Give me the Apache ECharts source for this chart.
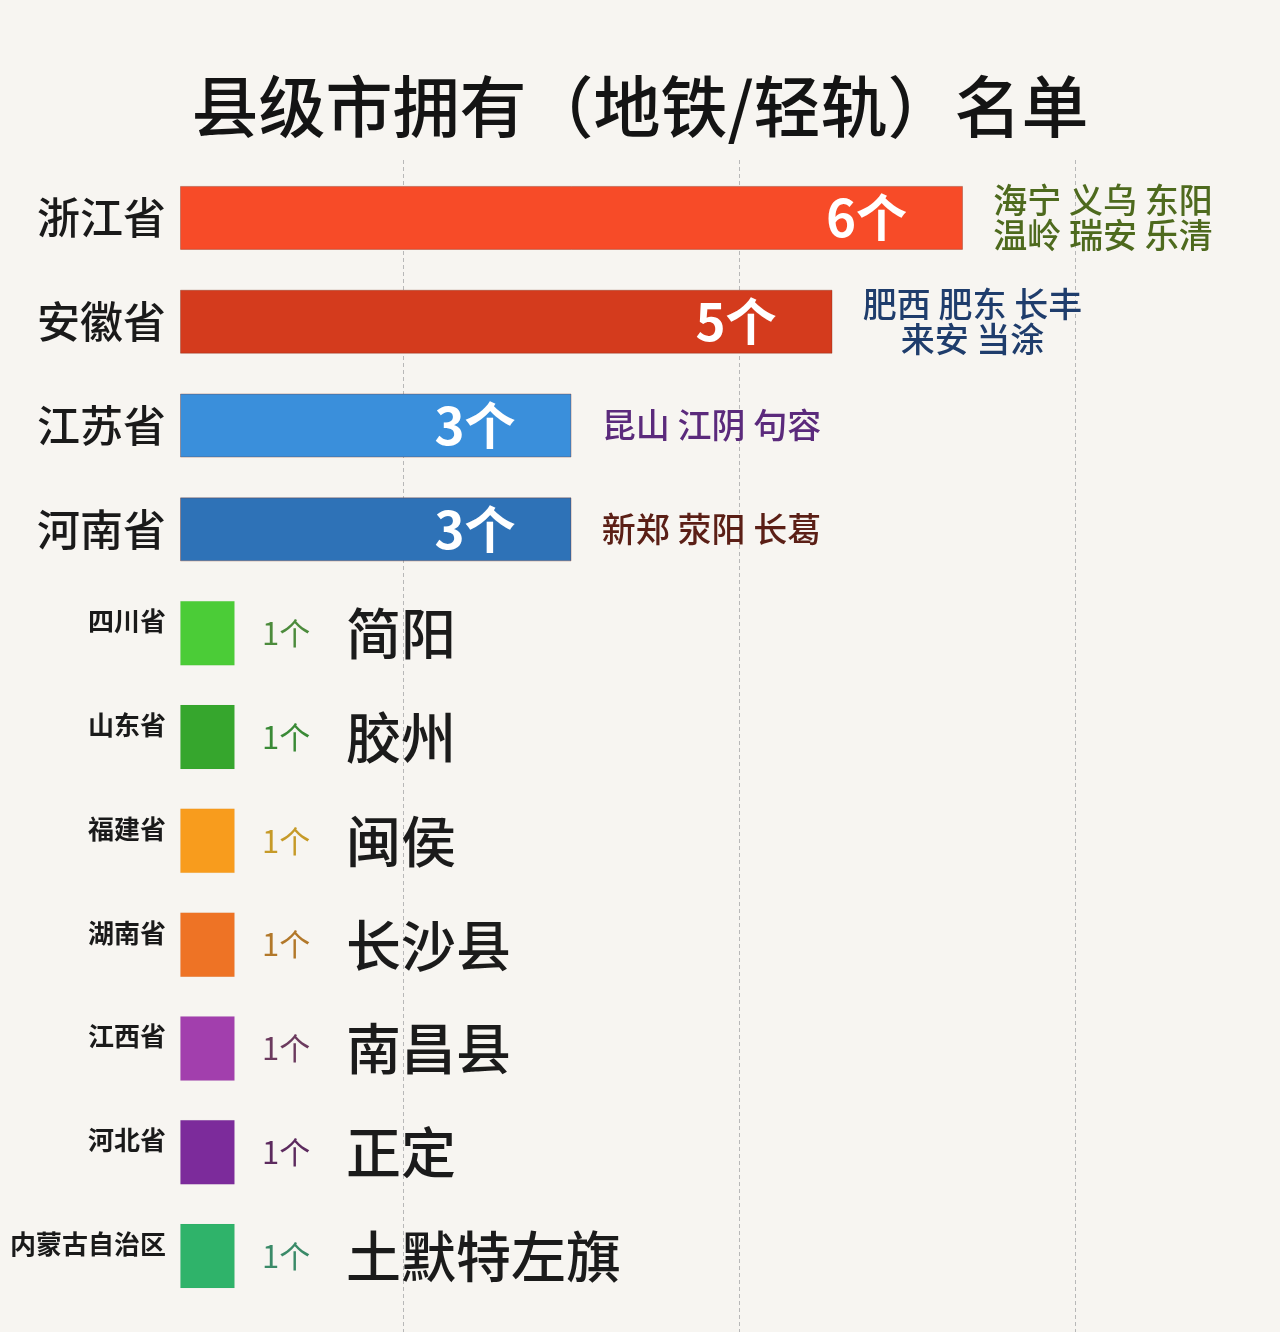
<!DOCTYPE html>
<html>
<head>
<meta charset="utf-8">
<script src="https://cdn.jsdelivr.net/npm/echarts@6/dist/echarts.min.js"></script>
<style>
html,body{margin:0;padding:0;background:#f7f5f1;}
#main{width:1280px;height:1332px;}
</style>
</head>
<body>
<div id="main"></div>
<script>
const titleText = '县级市拥有（地铁/轻轨）名单';
const provinces = ['浙江省','安徽省','江苏省','河南省','四川省','山东省','福建省','湖南省','江西省','河北省','内蒙古自治区'];
const counts = [6,5,3,3,1,1,1,1,1,1,1];
const countLabels = ['6个','5个','3个','3个','1个','1个','1个','1个','1个','1个','1个'];
const cities = [
  ['海宁 义乌 东阳','温岭 瑞安 乐清'],
  ['肥西 肥东 长丰','来安 当涂'],
  ['昆山 江阴 句容'],
  ['新郑 荥阳 长葛'],
  ['简阳'],['胶州'],['闽侯'],['长沙县'],['南昌县'],['正定'],['土默特左旗']
];
const barColors = ['#f74b28','#d43b1d','#3a8fdb','#2e72b7','#4bcc37','#36a62d','#f89c1d','#ee7325','#a23fad','#7c2b9b','#2fb36a'];
const textColors = ['#4e6a1e','#1f3d6c','#5b2a7c','#5b1f16','#4c8b3c','#3a8a36','#c69a28','#b2782a','#6b3a5e','#5c2a5e','#3a8a68'];

const FONT = '"Noto Sans CJK SC", "Noto Sans", sans-serif';

const bigData = counts.map((v,i)=> v >= 3 ? {value:v, itemStyle:{color:barColors[i]}} : '-');
const nameData = counts.map((v,i)=> v >= 3 ? {value:v, label:{color:textColors[i]}} : '-');
const smallData = counts.map((v,i)=> v < 3 ? {value:v, itemStyle:{color:barColors[i]}, label:{rich:{a:{color:textColors[i]}}}} : '-');

const chart = echarts.init(document.getElementById('main'));
chart.setOption({
  backgroundColor:'#f7f5f1',
  animation:false,
  title:{
    text:titleText, left:'center', top:68,
    textStyle:{fontFamily:FONT, fontSize:67, fontWeight:500, color:'#141414'}
  },
  grid:[
    {left:180, top:166, width:1044, height:1142, containLabel:false},
    {left:403, top:160, width:672, bottom:0}
  ],
  xAxis:[
    {type:'value', gridIndex:0, min:0, max:8, show:false, splitLine:{show:false}},
    {type:'value', gridIndex:1, min:0, max:2, interval:1,
     axisLine:{show:false}, axisTick:{show:false}, axisLabel:{show:false},
     splitLine:{show:true, lineStyle:{color:'#b8b8b8', type:[4,3], width:1}}}
  ],
  yAxis:[
    {type:'category', gridIndex:0, data:provinces, inverse:true,
     axisLine:{show:false}, axisTick:{show:false},
     axisLabel:{
       margin:14,
       formatter:(val, idx)=> counts[idx] >= 3 ? '{big|'+val+'}' : '{small|'+val+'}',
       rich:{
         big:{fontFamily:FONT, fontSize:43, fontWeight:500, color:'#1a1a1a'},
         small:{fontFamily:FONT, fontSize:26, fontWeight:'bold', color:'#1a1a1a', padding:[0,0,24,0]}
       }
     }},
    {type:'value', gridIndex:1, show:false, min:0, max:1}
  ],
  series:[
    {
      type:'bar', name:'main', xAxisIndex:0, yAxisIndex:0,
      data:bigData, barWidth:64,
      itemStyle:{borderColor:'rgba(120,40,20,0.35)', borderWidth:1},
      label:{show:true, position:'insideRight', distance:56,
        formatter:p=>countLabels[p.dataIndex],
        fontFamily:FONT, fontSize:51, fontWeight:'bold', color:'#ffffff'},
      z:3
    },
    {
      type:'bar', name:'names', xAxisIndex:0, yAxisIndex:0,
      data:nameData, barWidth:64, barGap:'-100%',
      itemStyle:{color:'rgba(0,0,0,0)'},
      label:{show:true, position:'right', distance:22,
        formatter:p=>cities[p.dataIndex].map(l=>'{n|'+l+'}').join('\n'),
        rich:{n:{fontFamily:FONT, fontSize:34, fontWeight:500, width:236, align:'center', lineHeight:35}}
      },
      z:4
    },
    {
      type:'pictorialBar', name:'single', xAxisIndex:0, yAxisIndex:0,
      data:smallData, symbol:'rect', symbolSize:[54,64], symbolPosition:'start',
      itemStyle:{borderColor:'rgba(0,0,0,0.2)', borderWidth:1},
      label:{show:true, position:'insideLeft', distance:82,
        formatter:p=>'{a|'+countLabels[p.dataIndex]+'}{c|'+cities[p.dataIndex][0]+'}',
        rich:{
          a:{fontFamily:FONT, fontSize:31, width:84},
          c:{fontFamily:FONT, fontSize:55, fontWeight:500, color:'#1b1b1b'}
        }
      },
      z:3
    }
  ]
});
</script>
</body>
</html>
